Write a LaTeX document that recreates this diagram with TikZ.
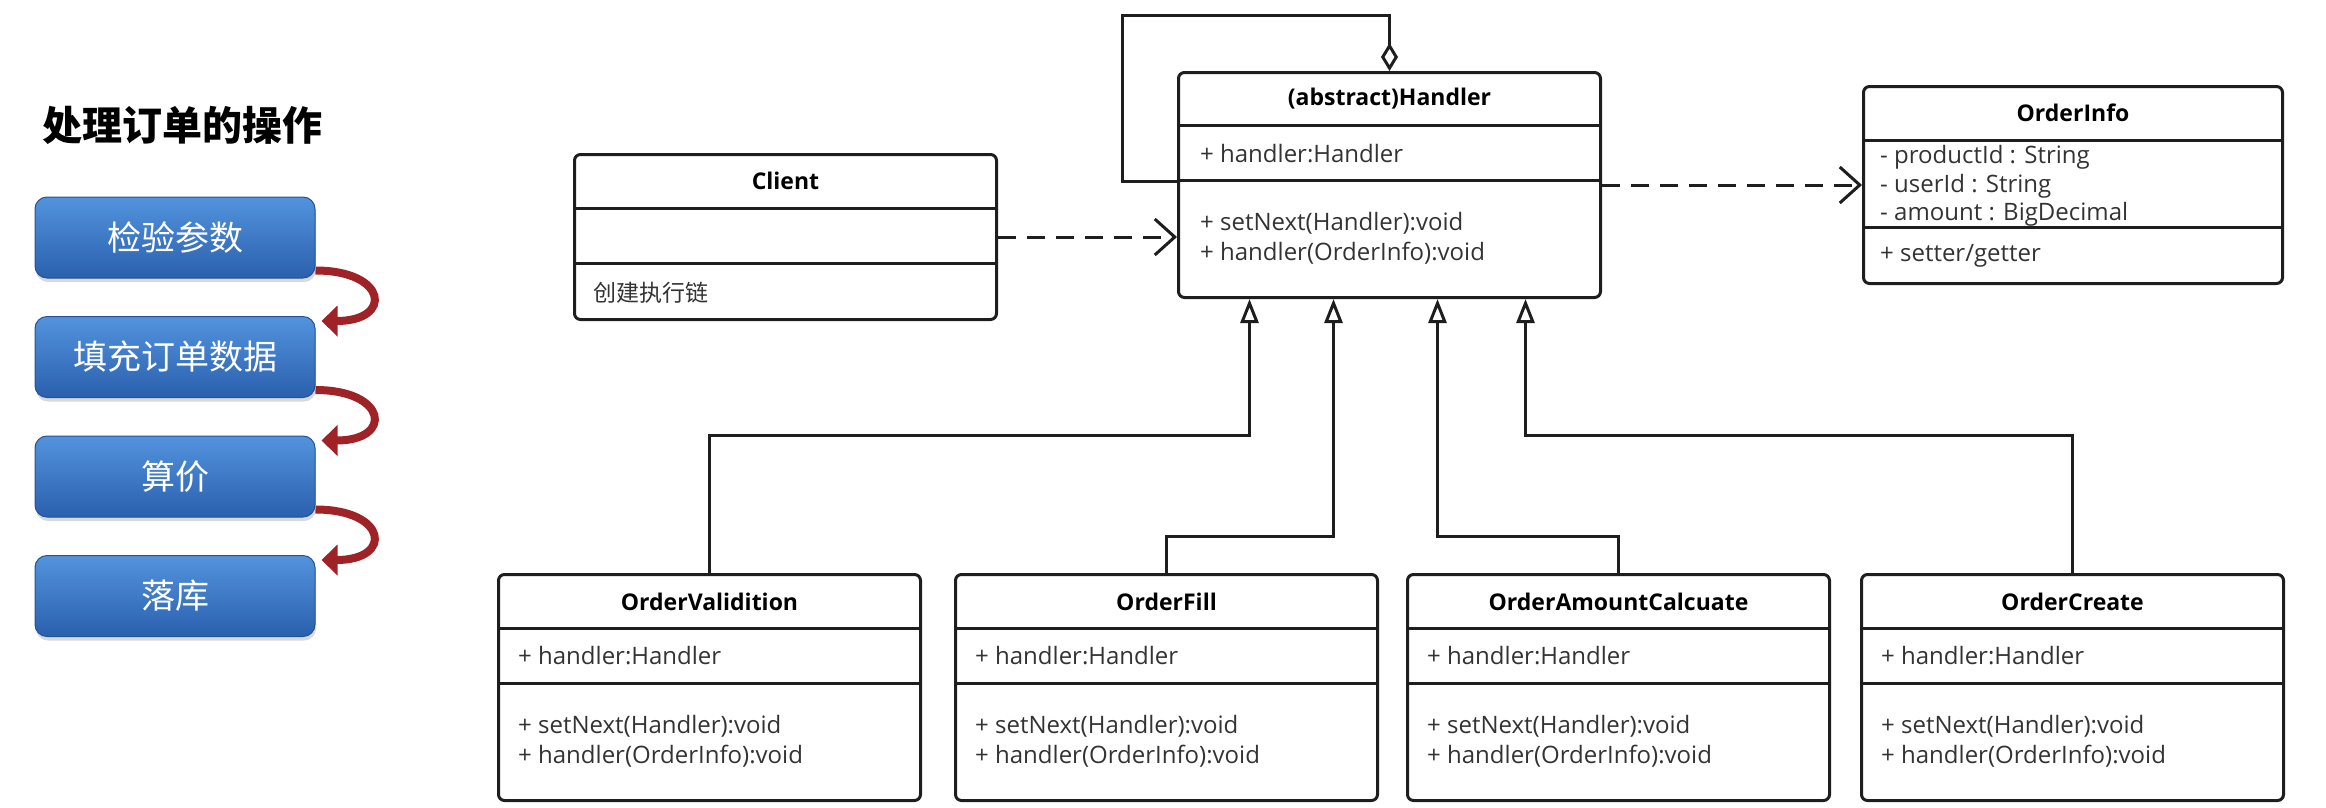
\documentclass[tikz,border=0pt]{standalone}
\usepackage{fontspec}
\setmainfont{Open Sans}
\newfontfamily\cjk{Noto Sans CJK SC}
\usetikzlibrary{arrows.meta, shadows}
\definecolor{umlline}{HTML}{1E1E1E}
\definecolor{umltext}{HTML}{333333}
\definecolor{steptop}{HTML}{5393DD}
\definecolor{stepbottom}{HTML}{2A60AE}
\definecolor{flowred}{HTML}{9E2226}
\tikzstyle{umlclass} = [rectangle, rounded corners=6pt, draw=umlline, line width=3pt, minimum width=422pt, anchor=north west, inner sep=0pt]
\tikzstyle{divider} = [draw=umlline, line width=3pt]
\tikzstyle{classname} = [font=\fontsize{23}{28}\selectfont\bfseries, text=black, inner sep=0pt]
\tikzstyle{member} = [font=\fontsize{24}{30}\selectfont, text=umltext, anchor=west, inner sep=0pt]
\tikzstyle{depend} = [draw=umlline, line width=3pt, dash pattern=on 18pt off 11pt, -{Straight Barb[length=20pt, width=36pt]}]
\tikzstyle{inherit} = [draw=umlline, line width=3pt, -{Triangle[open, length=24pt, width=18pt]}]
\tikzstyle{aggregate} = [draw=umlline, line width=3pt, -{Diamond[open, length=28pt, width=17pt]}]
\tikzstyle{stepbox} = [rectangle, rounded corners=12pt, minimum width=280pt, minimum height=81pt, top color=steptop, bottom color=stepbottom, draw=stepbottom!85!black, line width=1pt, text=white, font=\cjk\fontsize{34}{40}\selectfont, drop shadow={shadow xshift=1pt, shadow yshift=-4pt, opacity=0.3}]
\tikzstyle{flow} = [draw=flowred, line width=8pt, -{Triangle[length=16pt, width=30pt]}]
\begin{document}
\begin{tikzpicture}[x=1pt, y=-1pt, node distance=119.5pt]
\useasboundingbox (0,0) rectangle (2326,807);

    % steps of the order
    \node (title) [font=\cjk\fontsize{40}{48}\selectfont\bfseries] at (182,125) {处理订单的操作};
    \node (check) [stepbox] at (175,237.5) {检验参数};
    \node (filldata) [stepbox, below of=check] {填充订单数据};
    \node (price) [stepbox, below of=filldata] {算价};
    \node (store) [stepbox, below of=price] {落库};

    \draw [flow] ([yshift=8pt]check.south east) .. controls +(72,0) and +(72,0) .. ([xshift=6pt, yshift=-5pt]filldata.north east);
    \draw [flow] ([yshift=8pt]filldata.south east) .. controls +(72,0) and +(72,0) .. ([xshift=6pt, yshift=-5pt]price.north east);
    \draw [flow] ([yshift=8pt]price.south east) .. controls +(72,0) and +(72,0) .. ([xshift=6pt, yshift=-5pt]store.north east);

    % client
    \node (client) [umlclass, minimum height=165pt] at (573,153) {};
    \draw [divider] (client.west |- 0,208) -- (client.east |- 0,208);
    \draw [divider] (client.west |- 0,263) -- (client.east |- 0,263);
    \node (client-name) [classname] at (client.north |- 0,181) {Client};
    \node (client-op) [member, font=\cjk\fontsize{23}{28}\selectfont] at (593,293) {创建执行链};

    % abstract handler
    \node (handler) [umlclass, minimum height=225pt] at (1177,71) {};
    \draw [divider] (handler.west |- 0,125) -- (handler.east |- 0,125);
    \draw [divider] (handler.west |- 0,180) -- (handler.east |- 0,180);
    \node (handler-name) [classname] at (handler.north |- 0,99) {(abstract)Handler};
    \node (handler-attr) [member] at (1200,154) {+ handler:Handler};
    \node (handler-next) [member] at (1200,223) {+ setNext(Handler):void};
    \node (handler-op) [member] at (1200,253) {+ handler(OrderInfo):void};

    % order info
    \node (info) [umlclass, minimum width=419pt, minimum height=197pt] at (1862,85) {};
    \draw [divider] (info.west |- 0,140) -- (info.east |- 0,140);
    \draw [divider] (info.west |- 0,227) -- (info.east |- 0,227);
    \node (info-name) [classname] at (info.north |- 0,113) {OrderInfo};
    \node (info-product) [member] at (1880,157) {- productId : String};
    \node (info-user) [member] at (1880,186) {- userId : String};
    \node (info-amount) [member] at (1880,214) {- amount : BigDecimal};
    \node (info-op) [member] at (1880,256) {+ setter/getter};

    % concrete handlers
    \foreach \cls/\x/\cname in {valid/497/OrderValidition, fill/954/OrderFill, amount/1406/OrderAmountCalcuate, create/1860/OrderCreate} {
        \node (\cls) [umlclass, minimum height=226pt] at (\x,573) {};
        \draw [divider] (\cls.west |- 0,628) -- (\cls.east |- 0,628);
        \draw [divider] (\cls.west |- 0,683) -- (\cls.east |- 0,683);
        \node (\cls-name) [classname] at (\cls.north |- 0,602) {\cname};
        \node (\cls-attr) [member, xshift=21pt] at (\cls.west |- 0,656) {+ handler:Handler};
        \node (\cls-next) [member, xshift=21pt] at (\cls.west |- 0,726) {+ setNext(Handler):void};
        \node (\cls-op) [member, xshift=21pt] at (\cls.west |- 0,756) {+ handler(OrderInfo):void};
    }

    \draw [depend] (client.east) -- (handler.west |- client.east);
    \draw [depend] (handler.east) -- (info.west |- handler.east);
    \draw [aggregate] (handler.west |- 0,181) -- ++(-55,0) -- ++(0,-166) -| (handler.north);
    \draw [inherit] (valid.north) -- ++(0,-138) -| ([xshift=-140pt]handler.south);
    \draw [inherit] (fill.north) -- ++(0,-37) -| ([xshift=-56pt]handler.south);
    \draw [inherit] (amount.north) -- ++(0,-37) -| ([xshift=48pt]handler.south);
    \draw [inherit] (create.north) -- ++(0,-138) -| ([xshift=136pt]handler.south);

\end{tikzpicture}
\end{document}
